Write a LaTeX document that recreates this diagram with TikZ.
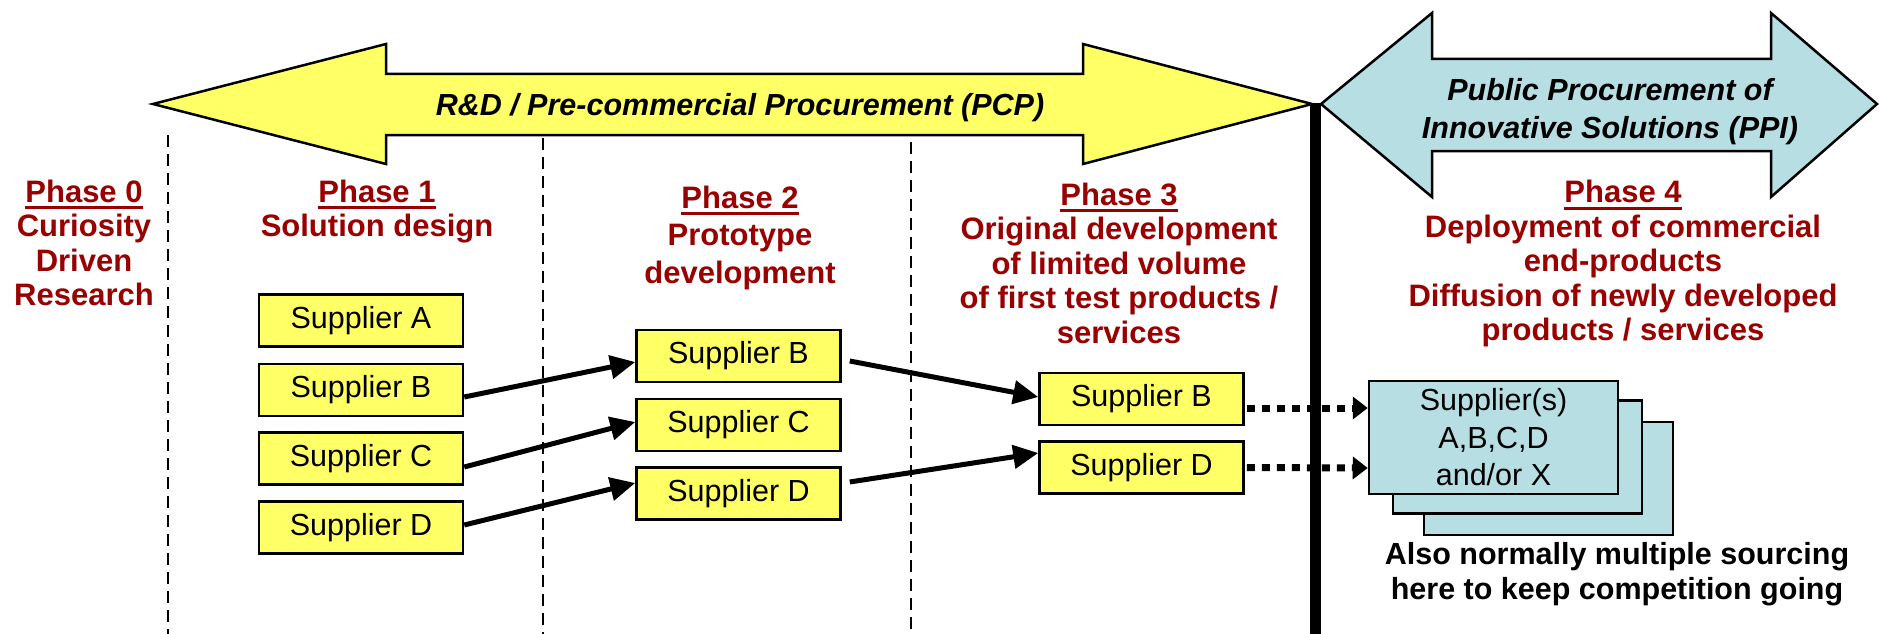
\documentclass[tikz,border=0pt]{standalone}
\usepackage{fontspec}
\setmainfont{Liberation Sans}
\usetikzlibrary{arrows.meta,calc}
\definecolor{pyellow}{RGB}{255,255,102}
\definecolor{pblue}{RGB}{183,222,226}
\definecolor{pred}{RGB}{153,0,0}
\newcommand{\phul}[1]{\sbox0{#1}\rlap{\usebox0}\rule[-7pt]{\wd0}{3pt}}
\begin{document}
\begin{tikzpicture}[x=1pt,y=-1pt,
  big/.style={draw=black, line width=2.5pt, line join=miter},
  phase/.style={anchor=base, align=center, inner sep=0pt, text=pred, font=\fontsize{31}{34.5}\selectfont\bfseries},
  sup/.style={draw=black, line width=2.5pt, fill=pyellow, minimum width=204pt, minimum height=52pt, inner sep=0pt, font=\fontsize{30.5}{35}\selectfont},
  stk/.style={draw=black, line width=2.5pt, fill=pblue, minimum width=249pt, minimum height=113pt, inner sep=0pt},
  sarr/.style={line width=5pt, -{Triangle[length=25pt,width=23pt]}},
  darr/.style={line width=7pt, dash pattern=on 8pt off 7pt, -{Triangle[length=15pt,width=22pt]}},
  sep/.style={line width=2.5pt, dash pattern=on 12pt off 7pt},
  bannertext/.style={anchor=base, align=center, inner sep=0pt, font=\fontsize{30.5}{38}\selectfont\bfseries\itshape}
  ]
\useasboundingbox (0,0) rectangle (1879,634);
\fill[white] (0,0) rectangle (1879,634);

% separators
\draw[sep] (168,135) -- (168,634);
\draw[sep] (543,138) -- (543,634);
\draw[sep] (911,142) -- (911,634);

% banners
\draw[big, fill=pyellow] (153,104) -- (386,44) -- (386,74) -- (1083,74) -- (1083,44) -- (1312,104)
  -- (1083,164) -- (1083,135) -- (386,135) -- (386,164) -- cycle;
\draw[big, fill=pblue] (1321,104) -- (1432,13) -- (1432,59) -- (1771,59) -- (1771,13) -- (1877,104)
  -- (1771,197) -- (1771,151) -- (1432,151) -- (1432,197) -- cycle;
\node[bannertext] (pcp) at (740,115) {R\&D / Pre-commercial Procurement (PCP)};
\node[bannertext] (ppi) at (1610,138) {Public Procurement of\\Innovative Solutions (PPI)};

% thick divider
\draw[line width=11pt] (1315,103) -- (1315,634);

% phase headings (anchor base = baseline of last line)
\node[phase] (p0) at (84,305.5) {\phul{Phase 0}\\Curiosity\\Driven\\Research};
\node[phase] (p1) at (377,236.5) {\phul{Phase 1}\\Solution design};
\node[phase, font=\fontsize{31}{37.5}\selectfont\bfseries] (p2) at (740,283) {\phul{Phase 2}\\Prototype\\development};
\node[phase] (p3) at (1119,343) {\phul{Phase 3}\\Original development\\of limited volume\\of first test products /\\services};
\node[phase] (p4) at (1623,340.5) {\phul{Phase 4}\\Deployment of commercial\\end-products\\Diffusion of newly developed\\products / services};

% suppliers
\node[sup] (a1) at (361,320.5) {Supplier A};
\node[sup] (b1) at (361,390) {Supplier B};
\node[sup] (c1) at (361,458.5) {Supplier C};
\node[sup] (d1) at (361,527.5) {Supplier D};
\node[sup] (b2) at (738.5,356) {Supplier B};
\node[sup] (c2) at (738.5,425) {Supplier C};
\node[sup] (d2) at (738.5,493.5) {Supplier D};
\node[sup] (b3) at (1141.5,399) {Supplier B};
\node[sup] (d3) at (1141.5,467.5) {Supplier D};

% stacked boxes
\node[stk] (stback) at (1548.5,478.5) {};
\node[stk] (stmid) at (1517.5,457) {};
\node[stk, align=center, font=\fontsize{30.5}{37.5}\selectfont] (stfront) at (1493.5,437.5) {Supplier(s)\\A,B,C,D\\and/or X};

\node[anchor=base, align=center, inner sep=0pt, font=\fontsize{30.5}{35}\selectfont\bfseries] (note) at (1617,599)
  {Also normally multiple sourcing\\here to keep competition going};

% arrows
\draw[sarr] ($(b1.east)+(0,7)$) -- ($(b2.west)+(0,6)$);
\draw[sarr] ($(c1.east)+(0,8.5)$) -- ($(c2.west)+(0,-3)$);
\draw[sarr] ($(d1.east)+(0,-2.5)$) -- ($(d2.west)+(0,-10.5)$);
\draw[sarr] ($(b2.east)+(8,5)$) -- ($(b3.west)+(0,-2)$);
\draw[sarr] ($(d2.east)+(8,-11.5)$) -- ($(d3.west)+(0,-14.5)$);
\draw[darr] ($(b3.east)+(2,9)$) -- ($(stfront.west)+(0,-29.5)$);
\draw[darr] ($(d3.east)+(2,0)$) -- ($(stfront.west)+(0,30.5)$);
\end{tikzpicture}
\end{document}
